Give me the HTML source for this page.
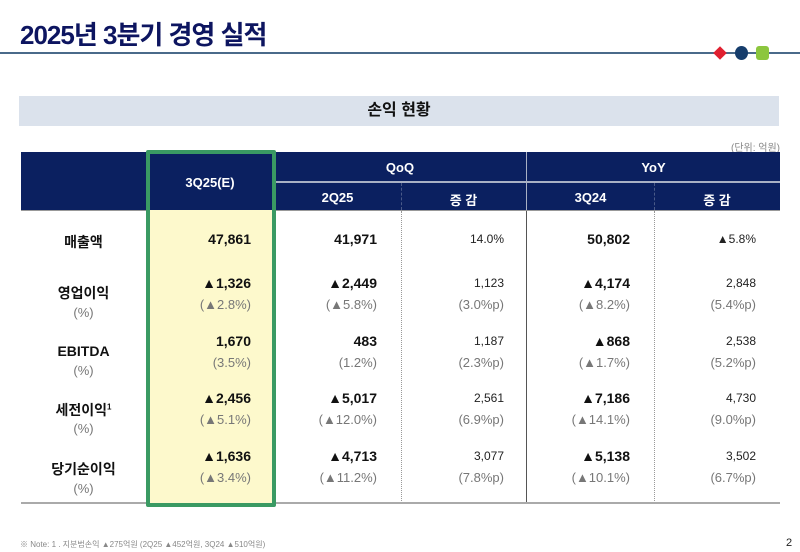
<!DOCTYPE html>
<html><head><meta charset="utf-8"><style>
body{margin:0;width:800px;height:552px;background:#fff;position:relative;overflow:hidden;font-family:"Liberation Sans","Noto Sans CJK KR",sans-serif}
.a{position:absolute;white-space:nowrap}
.t{font-weight:bold;font-size:16px;color:#111}
.p{font-size:13px;color:#777}
.n{font-size:12px;color:#222}
.r{text-align:right}
.c{text-align:center}
</style></head><body>
<div class="a" style="left:20px;top:15px;font-size:26px;font-weight:bold;color:#0d1560;letter-spacing:-1px">2025년 3분기 경영 실적</div>
<div class="a" style="left:0;top:52px;width:800px;height:2px;background:#4a6a8a"></div>
<div class="a" style="left:714px;top:47px;width:12px;height:12px;background:#e02030;transform:rotate(45deg) scale(.8)"></div>
<div class="a" style="left:735px;top:46px;width:13px;height:14px;border-radius:50%;background:#163d6c"></div>
<div class="a" style="left:756px;top:46px;width:13px;height:14px;border-radius:3px;background:#8cc63e"></div>
<div class="a c" style="left:19px;top:96px;width:760px;height:30px;background:#dbe2ec;line-height:30px;font-size:16px;font-weight:bold;color:#111">손익 현황</div>
<div class="a" style="left:731px;top:139px;font-size:10px;color:#888">(단위: 억원)</div>
<div class="a" style="left:21px;top:152px;width:759px;height:58px;background:#0b2060"></div>
<div class="a" style="left:274px;top:181px;width:506px;height:2px;background:#a8b0c4"></div>
<div class="a" style="left:526px;top:152px;width:1px;height:58px;background:#a8b0c4"></div>
<div class="a" style="left:401px;top:183px;height:27px;border-left:1px dashed #4a5a88"></div>
<div class="a" style="left:654px;top:183px;height:27px;border-left:1px dashed #4a5a88"></div>
<div class="a" style="left:21px;top:210px;width:759px;height:1px;background:#999"></div>
<div class="a" style="left:401px;top:211px;height:292px;border-left:1px dotted #999"></div>
<div class="a" style="left:654px;top:211px;height:292px;border-left:1px dotted #999"></div>
<div class="a" style="left:526px;top:211px;width:1px;height:292px;background:#555"></div>
<div class="a" style="left:21px;top:502px;width:759px;height:2px;background:#aaa"></div>
<div class="a" style="left:146px;top:210px;width:128px;height:294px;background:#fdf9cc"></div>
<div class="a" style="left:146px;top:150px;width:122px;height:349px;border:4px solid #3a9a63;border-radius:2px"></div>
<div class="a c" style="left:150px;top:175px;width:120px;color:#fff;font-weight:bold;font-size:13px">3Q25(E)</div>
<div class="a c" style="left:274px;top:160px;width:252px;color:#fff;font-weight:bold;font-size:13px">QoQ</div>
<div class="a c" style="left:527px;top:160px;width:253px;color:#fff;font-weight:bold;font-size:13px">YoY</div>
<div class="a c" style="left:274px;top:190px;width:127px;color:#fff;font-weight:bold;font-size:13px">2Q25</div>
<div class="a c" style="left:401px;top:190px;width:125px;color:#fff;font-weight:bold;font-size:13px">증 감</div>
<div class="a c" style="left:527px;top:190px;width:127px;color:#fff;font-weight:bold;font-size:13px">3Q24</div>
<div class="a c" style="left:654px;top:190px;width:126px;color:#fff;font-weight:bold;font-size:13px">증 감</div>

<div class="a c t" style="left:21px;top:232px;width:125px;font-size:14px">매출액</div>
<div class="a c t" style="left:21px;top:283px;width:125px;font-size:14px">영업이익</div>
<div class="a c p" style="left:21px;top:305px;width:125px">(%)</div>
<div class="a c t" style="left:21px;top:343px;width:125px;font-size:14px">EBITDA</div>
<div class="a c p" style="left:21px;top:363px;width:125px">(%)</div>
<div class="a c t" style="left:21px;top:400px;width:125px;font-size:14px">세전이익<sup style="font-size:8px">1</sup></div>
<div class="a c p" style="left:21px;top:421px;width:125px">(%)</div>
<div class="a c t" style="left:21px;top:459px;width:125px;font-size:14px">당기순이익</div>
<div class="a c p" style="left:21px;top:481px;width:125px">(%)</div>

<div class="a r t" style="right:549px;top:231px;font-size:14px">47,861</div>
<div class="a r t" style="right:423px;top:231px;font-size:14px">41,971</div>
<div class="a r n" style="right:296px;top:232px">14.0%</div>
<div class="a r t" style="right:170px;top:231px;font-size:14px">50,802</div>
<div class="a r n" style="right:44px;top:232px">▲5.8%</div>

<div class="a r t" style="right:549px;top:275px;font-size:14px">▲1,326</div>
<div class="a r t" style="right:423px;top:275px;font-size:14px">▲2,449</div>
<div class="a r n" style="right:296px;top:276px">1,123</div>
<div class="a r t" style="right:170px;top:275px;font-size:14px">▲4,174</div>
<div class="a r n" style="right:44px;top:276px">2,848</div>
<div class="a r p" style="right:549px;top:297px">(▲2.8%)</div>
<div class="a r p" style="right:423px;top:297px">(▲5.8%)</div>
<div class="a r p" style="right:296px;top:297px">(3.0%p)</div>
<div class="a r p" style="right:170px;top:297px">(▲8.2%)</div>
<div class="a r p" style="right:44px;top:297px">(5.4%p)</div>

<div class="a r t" style="right:549px;top:333px;font-size:14px">1,670</div>
<div class="a r t" style="right:423px;top:333px;font-size:14px">483</div>
<div class="a r n" style="right:296px;top:334px">1,187</div>
<div class="a r t" style="right:170px;top:333px;font-size:14px">▲868</div>
<div class="a r n" style="right:44px;top:334px">2,538</div>
<div class="a r p" style="right:549px;top:355px">(3.5%)</div>
<div class="a r p" style="right:423px;top:355px">(1.2%)</div>
<div class="a r p" style="right:296px;top:355px">(2.3%p)</div>
<div class="a r p" style="right:170px;top:355px">(▲1.7%)</div>
<div class="a r p" style="right:44px;top:355px">(5.2%p)</div>

<div class="a r t" style="right:549px;top:390px;font-size:14px">▲2,456</div>
<div class="a r t" style="right:423px;top:390px;font-size:14px">▲5,017</div>
<div class="a r n" style="right:296px;top:391px">2,561</div>
<div class="a r t" style="right:170px;top:390px;font-size:14px">▲7,186</div>
<div class="a r n" style="right:44px;top:391px">4,730</div>
<div class="a r p" style="right:549px;top:412px">(▲5.1%)</div>
<div class="a r p" style="right:423px;top:412px">(▲12.0%)</div>
<div class="a r p" style="right:296px;top:412px">(6.9%p)</div>
<div class="a r p" style="right:170px;top:412px">(▲14.1%)</div>
<div class="a r p" style="right:44px;top:412px">(9.0%p)</div>

<div class="a r t" style="right:549px;top:448px;font-size:14px">▲1,636</div>
<div class="a r t" style="right:423px;top:448px;font-size:14px">▲4,713</div>
<div class="a r n" style="right:296px;top:449px">3,077</div>
<div class="a r t" style="right:170px;top:448px;font-size:14px">▲5,138</div>
<div class="a r n" style="right:44px;top:449px">3,502</div>
<div class="a r p" style="right:549px;top:470px">(▲3.4%)</div>
<div class="a r p" style="right:423px;top:470px">(▲11.2%)</div>
<div class="a r p" style="right:296px;top:470px">(7.8%p)</div>
<div class="a r p" style="right:170px;top:470px">(▲10.1%)</div>
<div class="a r p" style="right:44px;top:470px">(6.7%p)</div>

<div class="a" style="left:20px;top:539px;font-size:8px;color:#888">※ Note: 1 . 지분법손익 ▲275억원 (2Q25 ▲452억원, 3Q24 ▲510억원)</div>
<div class="a" style="left:786px;top:537px;font-size:11px;color:#222">2</div>
</body></html>
